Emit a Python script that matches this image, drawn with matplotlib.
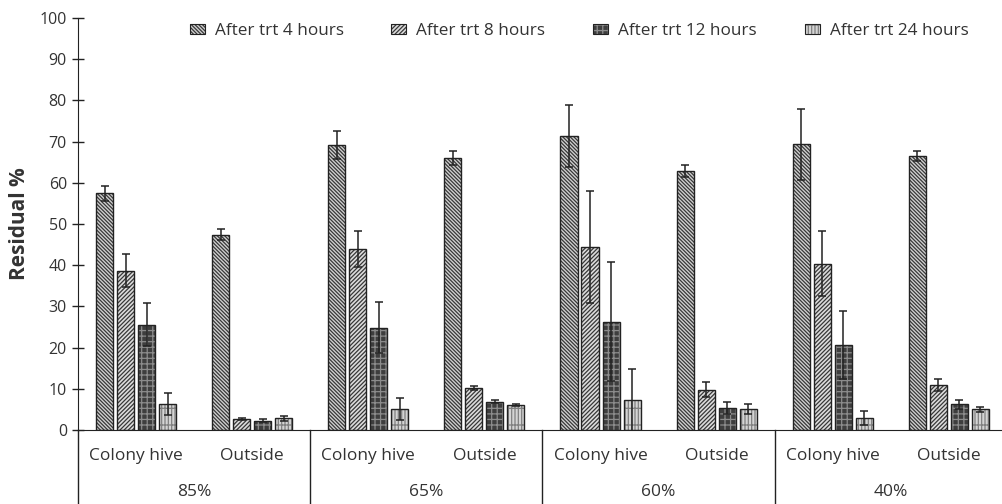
import numpy as np
import matplotlib
matplotlib.use('Agg')
import matplotlib.pyplot as plt
from matplotlib.patches import Patch
from matplotlib.legend_handler import HandlerTuple

plt.rcParams['font.family'] = ['Open Sans', 'DejaVu Sans']
plt.rcParams['hatch.linewidth'] = 0.9

# data
sites = ['Colony hive', 'Outside'] * 4
humidity = ['85%', '65%', '60%', '40%']
series = ['After trt 4 hours', 'After trt 8 hours', 'After trt 12 hours', 'After trt 24 hours']

h4 = [57.5, 47.4, 69.2, 66.0, 71.4, 62.8, 69.3, 66.5]
h4_err = [1.8, 1.3, 3.4, 1.6, 7.6, 1.5, 8.5, 1.1]
h8 = [38.7, 2.7, 43.9, 10.2, 44.5, 9.8, 40.4, 11.0]
h8_err = [4.0, 0.2, 4.4, 0.4, 13.6, 1.9, 7.9, 1.5]
h12 = [25.6, 2.3, 24.8, 6.9, 26.3, 5.4, 20.6, 6.2]
h12_err = [5.3, 0.3, 6.2, 0.3, 14.4, 1.4, 8.2, 1.1]
h24 = [6.4, 2.9, 5.1, 6.1, 7.2, 5.1, 2.9, 5.0]
h24_err = [2.7, 0.6, 2.6, 0.2, 7.7, 1.1, 1.6, 0.7]

values = [h4, h8, h12, h24]
errors = [h4_err, h8_err, h12_err, h24_err]

# face colour, hatch, hatch colour
styles = [('#d0d0d0', '\\' * 9, '#383838'),
          ('#dcdcdc', '/' * 8, '#383838'),
          ('#3e3e3e', '+++', '#8c8c8c'),
          ('#d4d4d4', '|||||-', '#808080')]

fig = plt.figure(figsize=(10.03, 5.04), dpi=100)
ax = fig.add_axes([78 / 1003, 74 / 504, 925 / 1003, 412 / 504])

x = np.arange(len(sites))
step = 0.181
width = 0.147
handles = []
for i, (vals, errs) in enumerate(zip(values, errors)):
    fc, hatch, hc = styles[i]
    pos = x + (i - 1.5) * step
    ax.bar(pos, vals, width, color=fc, edgecolor=hc, hatch=hatch, linewidth=0, zorder=2)
    ax.bar(pos, vals, width, fill=False, edgecolor='#222222', linewidth=1.0, zorder=3)
    ax.errorbar(pos, vals, yerr=errs, fmt='none', ecolor='#222222', elinewidth=1.1,
                capsize=3, capthick=1.1, zorder=4)
    handles.append((Patch(facecolor=fc, edgecolor=hc, hatch=hatch, linewidth=0),
                    Patch(fill=False, edgecolor='#222222', linewidth=0.8)))

ax.set_ylim(0, 100)
ax.set_xlim(-0.5, 7.466)
ax.set_yticks(np.arange(0, 101, 10))
ax.tick_params(axis='y', direction='inout', length=8, width=1, labelsize=11.5,
               colors='#222222', labelcolor='#333333', pad=4)
ax.set_xticks(x)
ax.set_xticklabels(sites, fontsize=12.5, color='#333333')
ax.tick_params(axis='x', length=0, pad=13)
ax.set_ylabel('Residual %', fontsize=15, fontweight='bold', color='#333333', labelpad=7)

for s in ['top', 'right']:
    ax.spines[s].set_visible(False)
ax.spines['left'].set_color('#222222')
ax.spines['bottom'].set_color('#222222')

# group separators and humidity labels below the axis
tr = ax.get_xaxis_transform()
for xb in [-0.5, 1.5, 3.5, 5.5]:
    ax.plot([xb, xb], [0, -0.18], transform=tr, color='#222222', lw=1, clip_on=False)
for j, lab in enumerate(humidity):
    ax.text(2 * j + 0.5, -0.151, lab, transform=tr, ha='center', va='center',
            fontsize=12.5, color='#333333')

fig.legend(handles, series, handler_map={tuple: HandlerTuple(ndivide=1, pad=0)},
           loc='center', bbox_to_anchor=(579 / 1003, 1 - 31 / 504), ncol=4, frameon=False,
           fontsize=12.3, handlelength=0.88, handleheight=0.6, handletextpad=0.58,
           columnspacing=2.8, labelcolor='#333333')

fig.savefig('out.png', dpi=100)
